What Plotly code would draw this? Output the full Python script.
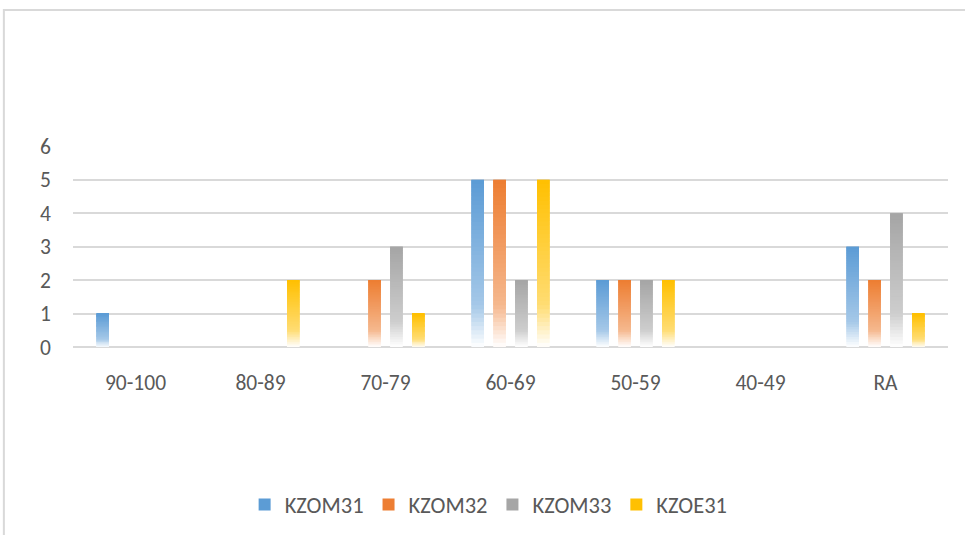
import plotly.graph_objects as go

categories = ["90-100", "80-89", "70-79", "60-69", "50-59", "40-49", "RA"]
series_names = ["KZOM31", "KZOM32", "KZOM33", "KZOE31"]
kzom31 = [1, 0, 0, 5, 2, 0, 3]
kzom32 = [0, 0, 2, 5, 2, 0, 2]
kzom33 = [0, 0, 3, 2, 2, 0, 4]
kzoe31 = [0, 2, 1, 5, 2, 0, 1]
series_values = [kzom31, kzom32, kzom33, kzoe31]
colors = [(91, 155, 213), (237, 125, 49), (165, 165, 165), (255, 192, 0)]

N = 40  # slices per bar to fake the gradient fill


def mix(c, t):
    # t=0 -> full colour, t=1 -> white
    return "rgb({},{},{})".format(*[round(v + (255 - v) * t) for v in c])


def fade(frac):
    # frac = height fraction from bottom (0) to top (1)
    if frac >= 0.25:
        return 0.45 * (1 - frac) / 0.75
    return 0.45 + 0.55 * (0.25 - frac) / 0.25


fig = go.Figure()
for s, (name, vals, col) in enumerate(zip(series_names, series_values, colors)):
    for i in range(N):
        frac = (i + 0.5) / N
        # each slice reaches two steps up so the next one overlaps it (no seams)
        fig.add_trace(go.Bar(
            x=categories,
            y=[min(v * (i + 2) / N, v) - v * i / N for v in vals],
            base=[v * i / N for v in vals],
            offsetgroup=str(s),
            marker=dict(color=mix(col, fade(frac)), line=dict(width=0)),
            name=name,
            legendgroup=name,
            showlegend=(i == N - 1),
            hoverinfo="skip",
        ))

fig.add_shape(type="rect", xref="paper", yref="paper",
              x0=-0.079, x1=1.03, y0=-1.0, y1=1.677,
              line=dict(color="#d9d9d9", width=2), fillcolor="rgba(0,0,0,0)")

fig.update_layout(
    width=965, height=535,
    margin=dict(l=73, r=17, t=146, b=188, autoexpand=False),
    paper_bgcolor="white", plot_bgcolor="white",
    barmode="group", bargap=0.3, bargroupgap=0.42,
    font=dict(family="Carlito, Lato, sans-serif", size=21.5, color="#595959"),
    legend=dict(orientation="h", x=0.475, xanchor="center", y=-0.786, yanchor="middle",
                font=dict(size=22.5), itemwidth=30, traceorder="normal"),
    xaxis=dict(showgrid=False, ticks="", ticklabelstandoff=20, showline=False,
               automargin=False),
    yaxis=dict(range=[0, 6.01], tickvals=[0, 1, 2, 3, 4, 5, 6], showgrid=True,
               gridcolor="#d9d9d9", gridwidth=2,
               zeroline=True, zerolinecolor="#d9d9d9", zerolinewidth=2,
               ticklabelstandoff=21, fixedrange=True, automargin=False),
)

# the page body has a default 8px margin; drop it so the figure sits at 0,0
fig.write_html("out.html", config={"displayModeBar": False},
               post_script="document.body.style.margin='0';")
